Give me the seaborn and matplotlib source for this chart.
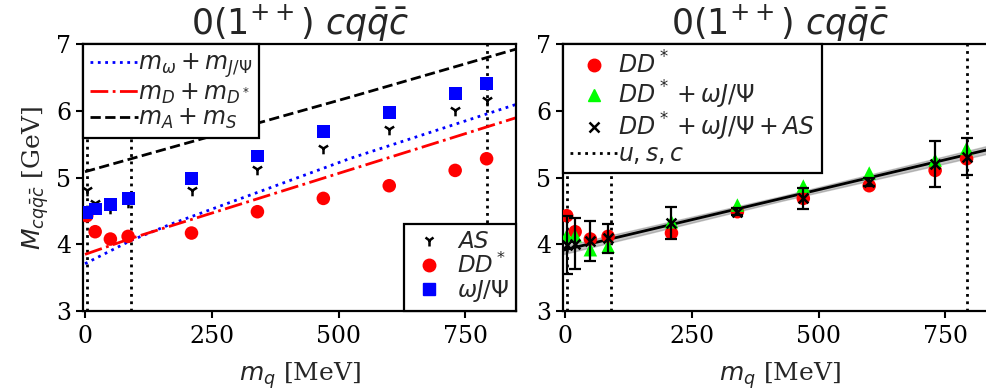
import numpy as np
import pandas as pd
import matplotlib
matplotlib.use("Agg")
import matplotlib.pyplot as plt
import seaborn as sns
from matplotlib.lines import Line2D

# ---------------- data ----------------
mq = [3.4, 20, 50, 85, 210, 340, 470, 600, 730, 792]
dd_star = [4.43, 4.19, 4.08, 4.12, 4.17, 4.49, 4.69, 4.88, 5.11, 5.285]
omega_jpsi = [4.48, 4.53, 4.60, 4.69, 4.99, 5.325, 5.69, 5.975, 6.265, 6.415]
as_state = [4.815, 4.615, 4.54, 4.63, 4.815, 5.125, 5.44, 5.725, 6.015, 6.165]
dd_omega = [4.13, 4.13, 3.92, 3.97, 4.34, 4.59, 4.875, 5.07, 5.265, 5.44]
dd_omega_as = [3.99, 4.01, 4.05, 4.09, 4.32, 4.49, 4.69, 4.94, 5.205, 5.315]
dd_omega_as_err = [0.44, 0.38, 0.30, 0.22, 0.24, 0.05, 0.16, 0.06, 0.34, 0.28]

quark_masses = [3.4, 91, 792]  # u, s, c

thr_omega_mq = [0, 91, 168, 523, 850]
thr_omega = [3.71, 4.06, 4.30, 5.29, 6.10]
thr_dd_mq = [0, 91, 523, 850]
thr_dd = [3.85, 4.09, 5.12, 5.90]
thr_as_mq = [0, 523, 850]
thr_as = [5.09, 6.21, 6.93]

fit_mq = [-3.4, 425, 850]
fit_m = [3.914, 4.685, 5.45]
fit_halfwidth = [0.06, 0.035, 0.06]

title = r"$0(1^{++})\ cq\bar{q}\bar{c}$"
xlabel = r"$m_q$ [MeV]"
ylabel = r"$M_{cq\bar{q}\bar{c}}$ [GeV]"
xticks = [0, 250, 500, 750]
yticks = [3, 4, 5, 6, 7]

# ---------------- style ----------------
sns.set_theme(style="ticks")
plt.rcParams["font.family"] = ["DejaVu Serif"]
plt.rcParams["mathtext.fontset"] = "dejavusans"
plt.rcParams["axes.linewidth"] = 1.6
plt.rcParams["axes.edgecolor"] = "black"

fig = plt.figure(figsize=(9.87, 3.92), dpi=100)
axL = fig.add_axes([0.0844, 0.2066, 0.4384, 0.680])
axR = fig.add_axes([0.5707, 0.2066, 0.4384, 0.680])

df = pd.DataFrame({"mq": mq, "dd": dd_star, "om": omega_jpsi, "as": as_state,
                   "ddom": dd_omega, "ddomas": dd_omega_as, "err": dd_omega_as_err})

LEG_FS = 17

# ---------------- left panel ----------------
for q in quark_masses:
    axL.axvline(q, color="black", linestyle=":", linewidth=2, zorder=1)
sns.lineplot(x=thr_omega_mq, y=thr_omega, ax=axL, color="blue", linestyle=":", linewidth=2, zorder=2)
sns.lineplot(x=thr_dd_mq, y=thr_dd, ax=axL, color="red", linestyle="-.", linewidth=2, zorder=2)
sns.lineplot(x=thr_as_mq, y=thr_as, ax=axL, color="black", linestyle="--", linewidth=2, zorder=2)

sns.scatterplot(data=df, x="mq", y="as", ax=axL, marker="1", color="black", s=70, linewidth=1.8, zorder=3)
sns.scatterplot(data=df, x="mq", y="dd", ax=axL, marker="o", color="red", s=95, edgecolor="none", zorder=3)
sns.scatterplot(data=df, x="mq", y="om", ax=axL, marker="s", color="blue", s=85, edgecolor="none", zorder=3)

h_lines = [Line2D([], [], color="blue", linestyle=":", linewidth=2),
           Line2D([], [], color="red", linestyle="-.", linewidth=2),
           Line2D([], [], color="black", linestyle="--", linewidth=2)]
leg1 = axL.legend(h_lines, [r"$m_\omega + m_{J/\Psi}$", r"$m_D + m_{D^*}$", r"$m_A + m_S$"],
                  loc="upper left", borderaxespad=0, fontsize=LEG_FS, fancybox=False,
                  edgecolor="black", framealpha=1, labelspacing=0.05, handlelength=2.0,
                  handletextpad=0.0, borderpad=0.3)
leg1.get_frame().set_linewidth(1.6)
axL.add_artist(leg1)
h_pts = [Line2D([], [], color="black", marker="1", linestyle="none", markersize=8, markeredgewidth=1.8),
         Line2D([], [], color="red", marker="o", linestyle="none", markersize=9),
         Line2D([], [], color="blue", marker="s", linestyle="none", markersize=8)]
leg2 = axL.legend(h_pts, [r"$AS$", r"$DD^*$", r"$\omega J/\Psi$"], loc="lower right",
                  borderaxespad=0, fontsize=16.5, fancybox=False, edgecolor="black",
                  framealpha=1, labelspacing=0.0, handlelength=1.6, handletextpad=0.4,
                  borderpad=0.3)
leg2.get_frame().set_linewidth(1.6)

# ---------------- right panel ----------------
for q in quark_masses:
    axR.axvline(q, color="black", linestyle=":", linewidth=2, zorder=1)
lo = [m - h for m, h in zip(fit_m, fit_halfwidth)]
hi = [m + h for m, h in zip(fit_m, fit_halfwidth)]
axR.fill_between(fit_mq, lo, hi, color="gray", alpha=0.45, linewidth=1, zorder=1.5)
sns.lineplot(x=fit_mq, y=fit_m, ax=axR, color="black", linewidth=2, zorder=1.6)

sns.scatterplot(data=df, x="mq", y="dd", ax=axR, marker="o", color="red", s=95, edgecolor="none", zorder=3)
sns.scatterplot(data=df, x="mq", y="ddom", ax=axR, marker="^", color="lime", s=95, edgecolor="none", zorder=3.1)
axR.errorbar(df["mq"], df["ddomas"], yerr=df["err"], fmt="none", ecolor="black",
             elinewidth=1.6, capsize=4, capthick=1.6, zorder=3.2)
sns.scatterplot(data=df, x="mq", y="ddomas", ax=axR, marker="x", color="black", s=50, linewidth=1.8, zorder=3.3)

h_r = [Line2D([], [], color="red", marker="o", linestyle="none", markersize=9),
       Line2D([], [], color="lime", marker="^", linestyle="none", markersize=9),
       Line2D([], [], color="black", marker="x", linestyle="none", markersize=7, markeredgewidth=1.8),
       Line2D([], [], color="black", linestyle=":", linewidth=2)]
leg3 = axR.legend(h_r, [r"$DD^*$", r"$DD^* + \omega J/\Psi$", r"$DD^* + \omega J/\Psi + AS$", r"$u, s, c$"],
                  loc="upper left", borderaxespad=0, fontsize=LEG_FS, fancybox=False,
                  edgecolor="black", framealpha=1, labelspacing=0.0, handlelength=2.0,
                  handletextpad=0.0, borderpad=0.3)
leg3.get_frame().set_linewidth(1.6)

# ---------------- axes cosmetics ----------------
for ax in (axL, axR):
    ax.set_xlim(-3.4, 850)
    ax.set_ylim(3, 7)
    ax.set_xticks(xticks)
    ax.set_yticks(yticks)
    ax.set_title(title, fontsize=25, pad=5)
    ax.set_xlabel(xlabel, fontsize=18, labelpad=9)
    ax.set_ylabel("")
    ax.tick_params(direction="out", length=5, width=1.5, labelsize=17, colors="black")
    ax.tick_params(axis="x", pad=5)
    for sp in ax.spines.values():
        sp.set_visible(True)
        sp.set_linewidth(1.6)
axL.set_ylabel(ylabel, fontsize=18, labelpad=4)

fig.savefig("out.png", dpi=100)
